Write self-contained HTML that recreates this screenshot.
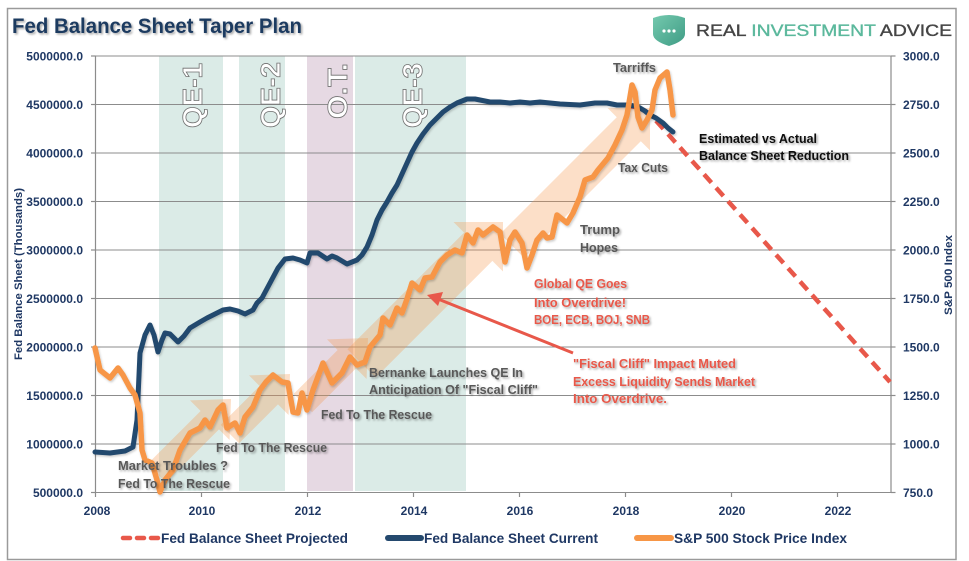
<!DOCTYPE html>
<html>
<head>
<meta charset="utf-8">
<style>
html,body{margin:0;padding:0;background:#fff;}
svg{display:block;}
text{font-family:"Liberation Sans",Arial,sans-serif;}
</style>
</head>
<body>
<svg width="969" height="561" viewBox="0 0 969 561" xmlns="http://www.w3.org/2000/svg">
<defs>
<filter id="sh" x="-10%" y="-30%" width="120%" height="160%">
<feDropShadow dx="1.5" dy="1.5" stdDeviation="1" flood-color="#000" flood-opacity="0.35"/>
</filter>
<filter id="lsh" x="-10%" y="-10%" width="120%" height="120%">
<feDropShadow dx="1" dy="1.5" stdDeviation="1" flood-color="#000" flood-opacity="0.2"/>
</filter>
<linearGradient id="shield" x1="0" y1="0" x2="1" y2="1">
<stop offset="0" stop-color="#74c9ae"/>
<stop offset="1" stop-color="#3f9c85"/>
</linearGradient>
</defs>
<rect width="969" height="561" fill="#fff"/>
<rect x="7.5" y="8.5" width="948.5" height="551" fill="none" stroke="#9a9a9a" stroke-width="1.5"/>

<!-- Title -->
<text x="12" y="33" font-size="21" font-weight="bold" fill="#1f3a60" textLength="290" lengthAdjust="spacingAndGlyphs" filter="url(#sh)">Fed Balance Sheet Taper Plan</text>

<!-- Logo -->
<path d="M653,18 Q669,12 685,18 L685,34 Q685,41 669,46 Q653,41 653,34 Z" fill="url(#shield)"/>
<circle cx="664" cy="31" r="1.6" fill="#fff"/>
<circle cx="669" cy="31" r="1.6" fill="#fff"/>
<circle cx="674" cy="31" r="1.6" fill="#fff"/>
<text x="696" y="36" font-size="16.5" textLength="256" lengthAdjust="spacingAndGlyphs" stroke-width="0.35"><tspan fill="#454545" stroke="#454545">REAL </tspan><tspan fill="#5bb89c" stroke="#5bb89c">INVESTMENT </tspan><tspan fill="#454545" stroke="#454545">ADVICE</tspan></text>

<!-- Bands -->
<rect x="159" y="56" width="64" height="435" fill="#dbebe7"/>
<rect x="239" y="56" width="46" height="435" fill="#dbebe7"/>
<rect x="307" y="56" width="46" height="435" fill="#e6d9e3"/>
<rect x="355" y="56" width="111" height="435" fill="#dbebe7"/>

<!-- Gridlines -->
<g stroke="#8c8c8c" stroke-width="1">
<line x1="95" y1="56" x2="891" y2="56"/>
<line x1="95" y1="104.5" x2="891" y2="104.5"/>
<line x1="95" y1="153" x2="891" y2="153"/>
<line x1="95" y1="201.5" x2="891" y2="201.5"/>
<line x1="95" y1="250" x2="891" y2="250"/>
<line x1="95" y1="298.5" x2="891" y2="298.5"/>
<line x1="95" y1="347" x2="891" y2="347"/>
<line x1="95" y1="395.5" x2="891" y2="395.5"/>
<line x1="95" y1="444" x2="891" y2="444"/>
<line x1="95" y1="492.5" x2="891" y2="492.5"/>
</g>
<!-- Axes -->
<g stroke="#8c8c8c" stroke-width="1.2">
<line x1="95.5" y1="56" x2="95.5" y2="493"/>
<line x1="891" y1="56" x2="891" y2="493"/>
<line x1="91" y1="56" x2="95.5" y2="56"/>
<line x1="91" y1="104.5" x2="95.5" y2="104.5"/>
<line x1="91" y1="153" x2="95.5" y2="153"/>
<line x1="91" y1="201.5" x2="95.5" y2="201.5"/>
<line x1="91" y1="250" x2="95.5" y2="250"/>
<line x1="91" y1="298.5" x2="95.5" y2="298.5"/>
<line x1="91" y1="347" x2="95.5" y2="347"/>
<line x1="91" y1="395.5" x2="95.5" y2="395.5"/>
<line x1="91" y1="444" x2="95.5" y2="444"/>
<line x1="91" y1="492.5" x2="95.5" y2="492.5"/>
<line x1="891" y1="56" x2="895.5" y2="56"/>
<line x1="891" y1="104.5" x2="895.5" y2="104.5"/>
<line x1="891" y1="153" x2="895.5" y2="153"/>
<line x1="891" y1="201.5" x2="895.5" y2="201.5"/>
<line x1="891" y1="250" x2="895.5" y2="250"/>
<line x1="891" y1="298.5" x2="895.5" y2="298.5"/>
<line x1="891" y1="347" x2="895.5" y2="347"/>
<line x1="891" y1="395.5" x2="895.5" y2="395.5"/>
<line x1="891" y1="444" x2="895.5" y2="444"/>
<line x1="891" y1="492.5" x2="895.5" y2="492.5"/>
<line x1="95.5" y1="492.5" x2="95.5" y2="497"/>
<line x1="201.5" y1="492.5" x2="201.5" y2="497"/>
<line x1="307.5" y1="492.5" x2="307.5" y2="497"/>
<line x1="413.5" y1="492.5" x2="413.5" y2="497"/>
<line x1="519.5" y1="492.5" x2="519.5" y2="497"/>
<line x1="625.5" y1="492.5" x2="625.5" y2="497"/>
<line x1="731.5" y1="492.5" x2="731.5" y2="497"/>
<line x1="837.5" y1="492.5" x2="837.5" y2="497"/>
</g>

<!-- QE labels -->
<g font-size="28" font-weight="bold" fill="#fff" stroke="#707070" stroke-width="0.8">
<text transform="translate(202,128) rotate(-90)" textLength="65" lengthAdjust="spacingAndGlyphs">QE-1</text>
<text transform="translate(280,128) rotate(-90)" textLength="66" lengthAdjust="spacingAndGlyphs">QE-2</text>
<text transform="translate(347,119) rotate(-90)" textLength="56" lengthAdjust="spacingAndGlyphs">O.T.</text>
<text transform="translate(422,128) rotate(-90)" textLength="65" lengthAdjust="spacingAndGlyphs">QE-3</text>
</g>

<!-- Pale arrows -->
<g fill="rgb(244,150,72)" fill-opacity="0.3">
<polygon transform="translate(231,399) rotate(-45)" points="-105,-13 -30,-13 -30,-28 0,0 -30,28 -30,13 -105,13"/>
<polygon transform="translate(290,374) rotate(-45)" points="-85,-13 -30,-13 -30,-28 0,0 -30,28 -30,13 -85,13"/>
<polygon transform="translate(368,338) rotate(-45)" points="-92,-13 -30,-13 -30,-28 0,0 -30,28 -30,13 -92,13"/>
<polygon transform="translate(503,222) rotate(-45)" points="-200,-20 -35,-20 -35,-35 0,0 -35,35 -35,20 -200,20"/>
<polygon transform="translate(650,108) rotate(-45)" points="-195,-17 -30,-17 -30,-30 0,0 -30,30 -30,17 -195,17"/>
</g>

<!-- Projected dashed -->
<polyline points="625,105 640,108 650,114 890,382" fill="none" stroke="#e8584a" stroke-width="4.5" stroke-dasharray="11 7"/>

<!-- Balance sheet current -->
<polyline fill="none" stroke="#24496e" stroke-width="5" stroke-linejoin="round" stroke-linecap="round" filter="url(#lsh)" points="95,452 110,453 125,451 133,447 137,420 140,353 145,335 150,325 154,335 158,352 162,340 165,333 170,334 178,342 184,336 190,328 200,322 207,318 215,314 223,310 230,309 238,311 245,314 253,310 257,303 262,298 270,283 278,268 285,259 293,258 300,260 307,263 310,253 318,253 327,259 332,256 337,258 342,261 347,264 352,262 357,260 362,255 367,247 372,235 377,220 382,210 387,202 392,193 397,185 402,174 407,163 412,152 417,143 423,134 430,125 437,118 443,112 450,107 457,103 467,99 475,99 480,100 490,102 500,102 510,103 520,102 530,103 540,102 560,104 580,105 595,103 607,103 617,105 627,105 635,106 640,108 645,111 650,115 656,118 663,123 668,128 673,132"/>

<!-- S&P 500 -->
<polyline fill="none" stroke="#f79646" stroke-width="5.5" stroke-linejoin="round" stroke-linecap="round" filter="url(#lsh)" points="95,348 100,370 110,378 118,368 123,375 130,388 135,395 140,413 142,450 145,460 152,463 157,480 160,492 165,480 173,470 180,450 190,433 200,428 205,420 210,427 218,410 223,405 227,428 235,423 240,433 245,417 253,407 260,390 266,382 273,375 282,382 288,383 293,412 298,413 302,393 307,410 313,390 323,363 332,383 342,373 350,357 357,365 365,362 370,347 380,335 383,318 390,325 397,308 402,313 407,299 412,283 420,290 425,278 432,277 440,262 447,255 455,250 462,253 467,235 473,243 478,230 483,235 493,227 500,232 505,262 510,240 515,232 522,243 527,268 532,255 537,240 543,233 547,238 552,237 557,215 567,223 573,213 580,197 585,180 593,177 598,170 608,158 615,145 622,130 627,115 632,85 635,92 638,117 642,128 647,120 652,110 655,90 660,78 667,72 670,90 673,115"/>

<!-- Red annotation arrow -->
<line x1="573" y1="353" x2="438" y2="299" stroke="#e8584a" stroke-width="3"/>
<polygon points="427,295 443,292 438,306" fill="#e8584a"/>

<!-- Annotations gray -->
<g font-size="13" font-weight="bold" fill="#595959" filter="url(#sh)">
<text x="118" y="470" textLength="110" lengthAdjust="spacingAndGlyphs">Market Troubles ?</text>
<text x="118" y="488" textLength="112" lengthAdjust="spacingAndGlyphs">Fed To The Rescue</text>
<text x="216" y="452" textLength="111" lengthAdjust="spacingAndGlyphs">Fed To The Rescue</text>
<text x="321" y="419" textLength="111" lengthAdjust="spacingAndGlyphs">Fed To The Rescue</text>
<text x="369" y="377" textLength="154" lengthAdjust="spacingAndGlyphs">Bernanke Launches QE In</text>
<text x="369" y="394" textLength="169" lengthAdjust="spacingAndGlyphs">Anticipation Of "Fiscal Cliff"</text>
<text x="580" y="234" textLength="40" lengthAdjust="spacingAndGlyphs">Trump</text>
<text x="580" y="252" textLength="38" lengthAdjust="spacingAndGlyphs">Hopes</text>
<text x="618" y="172" textLength="50" lengthAdjust="spacingAndGlyphs">Tax Cuts</text>
<text x="613" y="72" textLength="43" lengthAdjust="spacingAndGlyphs">Tarriffs</text>
</g>
<g font-size="13" font-weight="bold" fill="#e8584a" filter="url(#sh)">
<text x="534" y="288" textLength="93" lengthAdjust="spacingAndGlyphs">Global QE Goes</text>
<text x="534" y="307" textLength="92" lengthAdjust="spacingAndGlyphs">Into Overdrive!</text>
<text x="534" y="324" textLength="116" lengthAdjust="spacingAndGlyphs">BOE, ECB, BOJ, SNB</text>
<text x="573" y="368" textLength="163" lengthAdjust="spacingAndGlyphs">"Fiscal Cliff" Impact Muted</text>
<text x="573" y="386" textLength="182" lengthAdjust="spacingAndGlyphs">Excess Liquidity Sends Market</text>
<text x="573" y="403" textLength="94" lengthAdjust="spacingAndGlyphs">Into Overdrive.</text>
</g>
<g font-size="13" font-weight="bold" fill="#111" filter="url(#sh)">
<text x="699" y="143" textLength="118" lengthAdjust="spacingAndGlyphs">Estimated vs Actual</text>
<text x="699" y="160" textLength="150" lengthAdjust="spacingAndGlyphs">Balance Sheet Reduction</text>
</g>

<!-- Left tick labels -->
<g font-size="12" font-weight="bold" fill="#1f3864" text-anchor="end">
<text x="83" y="60.5">5000000.0</text>
<text x="83" y="109">4500000.0</text>
<text x="83" y="157.5">4000000.0</text>
<text x="83" y="206">3500000.0</text>
<text x="83" y="254.5">3000000.0</text>
<text x="83" y="303">2500000.0</text>
<text x="83" y="351.5">2000000.0</text>
<text x="83" y="400">1500000.0</text>
<text x="83" y="448.5">1000000.0</text>
<text x="83" y="497">500000.0</text>
</g>
<!-- Right tick labels -->
<g font-size="12" font-weight="bold" fill="#1f3864">
<text x="903" y="60.5">3000.0</text>
<text x="903" y="109">2750.0</text>
<text x="903" y="157.5">2500.0</text>
<text x="903" y="206">2250.0</text>
<text x="903" y="254.5">2000.0</text>
<text x="903" y="303">1750.0</text>
<text x="903" y="351.5">1500.0</text>
<text x="903" y="400">1250.0</text>
<text x="903" y="448.5">1000.0</text>
<text x="903" y="497">750.0</text>
</g>
<!-- X labels -->
<g font-size="12" font-weight="bold" fill="#1f3864" text-anchor="middle">
<text x="97" y="515">2008</text>
<text x="202" y="515">2010</text>
<text x="308" y="515">2012</text>
<text x="414" y="515">2014</text>
<text x="520" y="515">2016</text>
<text x="626" y="515">2018</text>
<text x="732" y="515">2020</text>
<text x="838" y="515">2022</text>
</g>
<!-- Axis titles -->
<text transform="translate(22,274) rotate(-90)" text-anchor="middle" font-size="11" font-weight="bold" fill="#1f3864" textLength="172" lengthAdjust="spacingAndGlyphs">Fed Balance Sheet (Thousands)</text>
<text transform="translate(952,275) rotate(-90)" text-anchor="middle" font-size="11" font-weight="bold" fill="#1f3864" textLength="80" lengthAdjust="spacingAndGlyphs">S&amp;P 500 Index</text>

<!-- Legend -->
<line x1="123" y1="538" x2="158" y2="538" stroke="#e8584a" stroke-width="4.5" stroke-linecap="round" stroke-dasharray="7 7"/>
<text x="161" y="543" font-size="14" font-weight="bold" fill="#1f3864" textLength="187" lengthAdjust="spacingAndGlyphs">Fed Balance Sheet Projected</text>
<line x1="388" y1="538" x2="421" y2="538" stroke="#24496e" stroke-width="6" stroke-linecap="round"/>
<text x="424" y="543" font-size="14" font-weight="bold" fill="#1f3864" textLength="174" lengthAdjust="spacingAndGlyphs">Fed Balance Sheet Current</text>
<line x1="637" y1="538" x2="671" y2="538" stroke="#f79646" stroke-width="6" stroke-linecap="round"/>
<text x="674" y="543" font-size="14" font-weight="bold" fill="#1f3864" textLength="173" lengthAdjust="spacingAndGlyphs">S&amp;P 500 Stock Price Index</text>
</svg>
</body>
</html>
